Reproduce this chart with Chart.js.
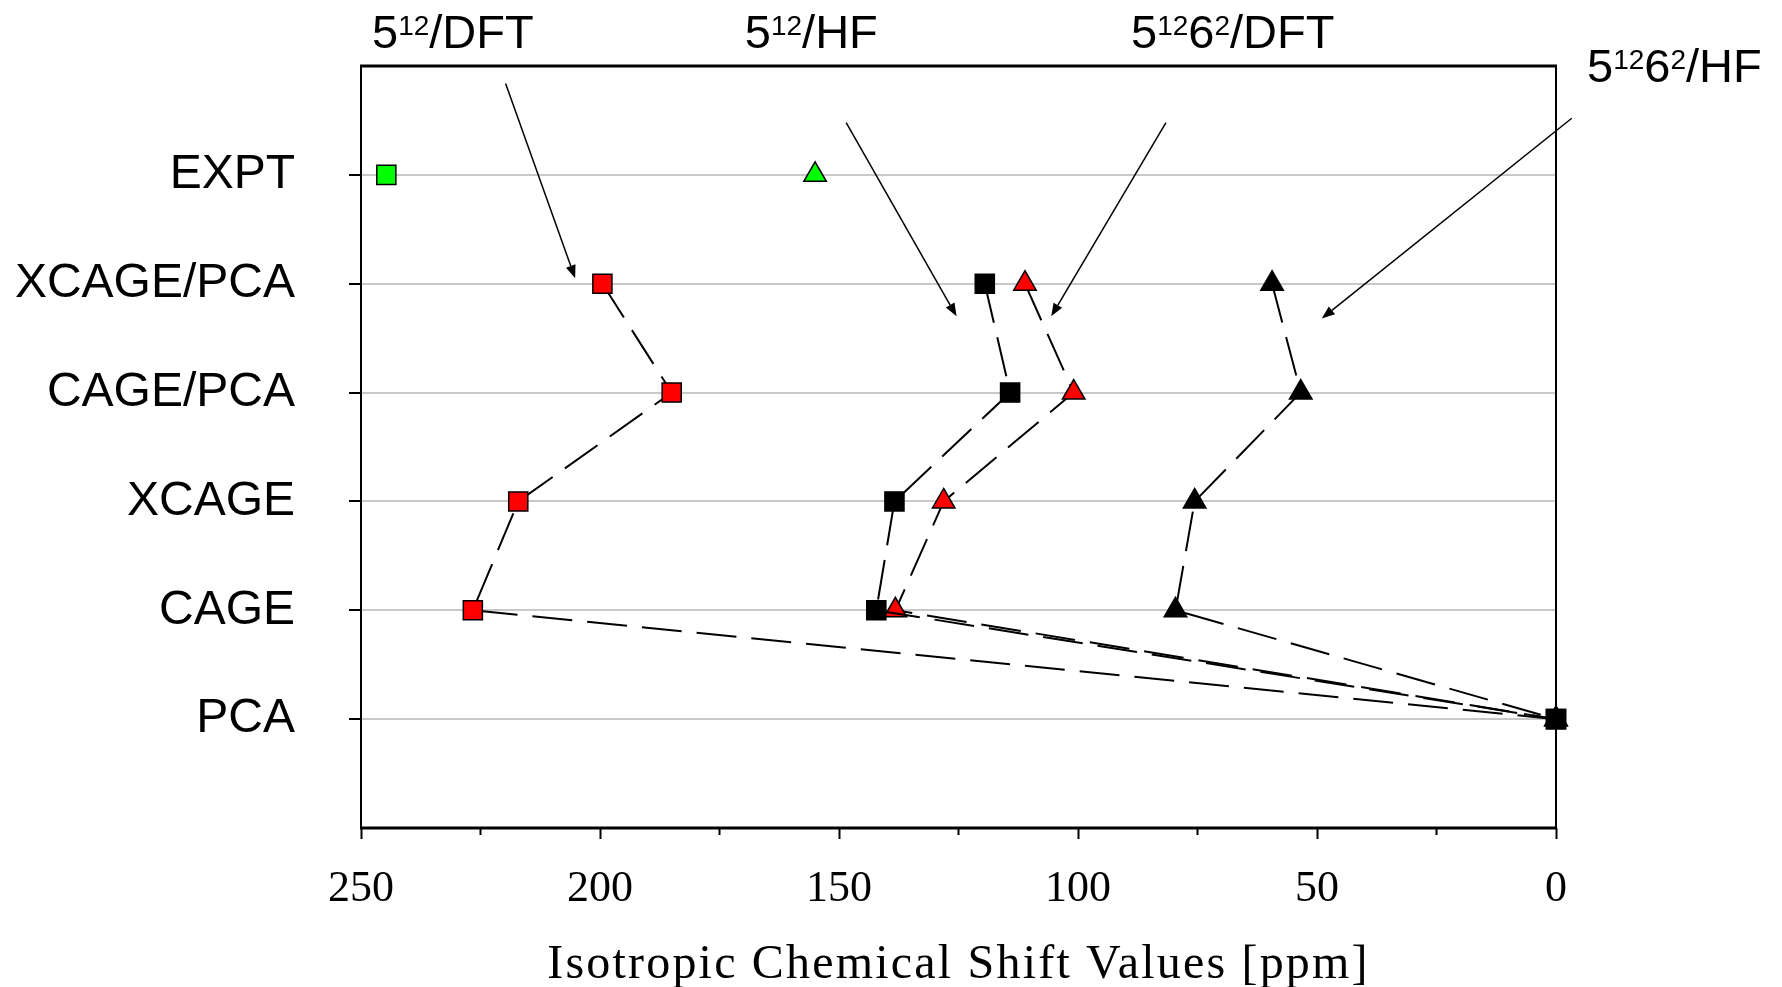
<!DOCTYPE html>
<html>
<head>
<meta charset="utf-8">
<script src="https://cdn.jsdelivr.net/npm/chart.js@4.4.0/dist/chart.umd.min.js"></script>
<style>
  html, body { margin: 0; padding: 0; background: #fff; }
  #wrap { width: 1782px; height: 987px; }
</style>
</head>
<body>
<div id="wrap"><canvas id="chart" width="1782" height="987"></canvas></div>
<script>
// rows of the y axis, bottom to top
var categories = ["PCA", "CAGE", "XCAGE", "CAGE/PCA", "XCAGE/PCA", "EXPT"];
// order in which the calculated points of each series are joined
var pathRows = ["XCAGE/PCA", "CAGE/PCA", "XCAGE", "CAGE", "PCA"];

// isotropic shifts [ppm], same order as pathRows
var dft512 = [199.5, 185.0, 217.1, 226.6, 0];
var hf512 = [119.5, 114.2, 138.4, 142.2, 0];
var dft51262 = [111.1, 100.9, 128.1, 138.2, 0];
var hf51262 = [59.4, 53.4, 75.6, 79.6, 0];
// experimental values: 5^12 cage, 5^12 6^2 cage
var exptValues = [244.7, 155.0];

var xMinorTicks = [25, 75, 125, 175, 225];
var xTitle = "Isotropic Chemical Shift Values [ppm]";

// cage labels over the plot, placed in data units (x = ppm, y = row)
var cageLabels = [
  { parts: [["5", 0], ["12", 1], ["/DFT", 0]], x: 247.7, y: 7.165 },
  { parts: [["5", 0], ["12", 1], ["/HF", 0]], x: 169.7, y: 7.165 },
  { parts: [["5", 0], ["12", 1], ["6", 0], ["2", 1], ["/DFT", 0]], x: 88.9, y: 7.165 },
  { parts: [["5", 0], ["12", 1], ["6", 0], ["2", 1], ["/HF", 0]], x: -6.5, y: 6.853 }
];
// arrows from the labels to their series
var arrows = [
  { x1: 219.75, y1: 6.84, x2: 205.2, y2: 5.05 },
  { x1: 148.5, y1: 6.48, x2: 125.4, y2: 4.70 },
  { x1: 81.6, y1: 6.48, x2: 105.6, y2: 4.70 },
  { x1: -3.3, y1: 6.52, x2: 49.0, y2: 4.68 }
];

function rowOf(name) {
  return categories.indexOf(name) + 1;
}
function toPoints(values) {
  return values.map((v, i) => ({ x: v, y: rowOf(pathRows[i]) }));
}

var dash = [40, 15];
function lineSet(label, values, style, fill, order) {
  return {
    label: label,
    data: toPoints(values),
    showLine: true,
    borderColor: "#000",
    borderWidth: 2,
    borderDash: dash,
    pointStyle: style,
    pointRadius: style === "rect" ? 13.5 : 13,
    pointBorderWidth: 1.5,
    pointBorderColor: "#000",
    pointBackgroundColor: fill,
    clip: false,
    order: order
  };
}

var annotate = {
  id: "annotate",
  beforeDatasetsDraw(chart) {
    const ctx = chart.ctx;
    const a = chart.chartArea;
    ctx.save();
    ctx.strokeStyle = "#000";
    ctx.lineWidth = 3;
    ctx.beginPath();
    ctx.moveTo(a.left - 1, a.top); ctx.lineTo(a.right + 1, a.top);
    ctx.moveTo(a.left - 1, a.bottom); ctx.lineTo(a.right + 1, a.bottom);
    ctx.stroke();
    ctx.lineWidth = 2;
    ctx.beginPath();
    ctx.moveTo(a.left, a.top); ctx.lineTo(a.left, a.bottom);
    ctx.moveTo(a.right, a.top); ctx.lineTo(a.right, a.bottom);
    ctx.stroke();
    // minor ticks of the x axis
    const xs = chart.scales.x;
    ctx.beginPath();
    xMinorTicks.forEach(v => {
      const px = xs.getPixelForValue(v);
      ctx.moveTo(px, a.bottom); ctx.lineTo(px, a.bottom + 7);
    });
    ctx.stroke();
    ctx.restore();
  },
  afterDraw(chart) {
    const ctx = chart.ctx;
    const a = chart.chartArea;
    const xs = chart.scales.x, ys = chart.scales.y;
    ctx.save();
    // arrows
    ctx.strokeStyle = "#000";
    ctx.fillStyle = "#000";
    ctx.lineWidth = 1.5;
    arrows.forEach(ar => {
      const x1 = xs.getPixelForValue(ar.x1), y1 = ys.getPixelForValue(ar.y1);
      const x2 = xs.getPixelForValue(ar.x2), y2 = ys.getPixelForValue(ar.y2);
      const ang = Math.atan2(y2 - y1, x2 - x1);
      const len = 13, half = 5;
      const bx = x2 - len * Math.cos(ang), by = y2 - len * Math.sin(ang);
      ctx.beginPath();
      ctx.moveTo(x1, y1); ctx.lineTo(bx, by);
      ctx.stroke();
      ctx.beginPath();
      ctx.moveTo(x2, y2);
      ctx.lineTo(bx + half * Math.sin(ang), by - half * Math.cos(ang));
      ctx.lineTo(bx - half * Math.sin(ang), by + half * Math.cos(ang));
      ctx.closePath();
      ctx.fill();
    });
    // cage labels with superscripts
    ctx.textBaseline = "alphabetic";
    ctx.textAlign = "left";
    cageLabels.forEach(lab => {
      let px = xs.getPixelForValue(lab.x);
      const py = ys.getPixelForValue(lab.y);
      lab.parts.forEach(p => {
        ctx.font = p[1] ? "28px 'Liberation Sans'" : "47px 'Liberation Sans'";
        ctx.fillText(p[0], px, p[1] ? py - 13 : py);
        px += ctx.measureText(p[0]).width;
      });
    });
    // x axis title, slightly letter-spaced
    ctx.font = "48px 'Liberation Serif'";
    ctx.textAlign = "center";
    ctx.letterSpacing = "2.2px";
    ctx.fillText(xTitle, (a.left + a.right) / 2, a.bottom + 150);
    ctx.restore();
  }
};

new Chart(document.getElementById("chart"), {
  type: "scatter",
  data: {
    datasets: [
      lineSet("5^12/HF", hf512, "rect", "#000", 1),
      lineSet("5^12 6^2/HF", hf51262, "triangle", "#000", 2),
      lineSet("5^12 6^2/DFT", dft51262, "triangle", "#ff0000", 3),
      lineSet("5^12/DFT", dft512, "rect", "#ff0000", 4),
      {
        label: "EXPT 5^12",
        data: [{ x: exptValues[0], y: rowOf("EXPT") }],
        pointStyle: "rect", pointRadius: 13.5, pointBorderWidth: 1.5,
        pointBorderColor: "#000", pointBackgroundColor: "#00ff00", clip: false, order: 5
      },
      {
        label: "EXPT 5^12 6^2",
        data: [{ x: exptValues[1], y: rowOf("EXPT") }],
        pointStyle: "triangle", pointRadius: 13, pointBorderWidth: 1.5,
        pointBorderColor: "#000", pointBackgroundColor: "#00ff00", clip: false, order: 5
      }
    ]
  },
  options: {
    responsive: false,
    animation: false,
    layout: { padding: { left: 0, top: 66, right: 226, bottom: 0 } },
    plugins: { legend: { display: false }, tooltip: { enabled: false } },
    scales: {
      x: {
        type: "linear",
        reverse: true,
        min: 0,
        max: 250,
        afterFit: (s) => { s.height = 159; },
        border: { display: false },
        grid: { drawOnChartArea: false, tickLength: 11, tickColor: "#000", tickWidth: 2 },
        ticks: {
          stepSize: 50,
          maxRotation: 0,
          padding: 24,
          color: "#000",
          font: { family: "Liberation Serif", size: 44 }
        }
      },
      y: {
        type: "linear",
        min: 0,
        max: 7,
        afterFit: (s) => {
          s.width = 361;
          s.paddingTop = 0;
          s.paddingBottom = 0;
        },
        border: { display: false },
        grid: {
          lineWidth: 2,
          color: (c) => (c.tick && c.tick.value >= 1 && c.tick.value <= 6) ? "#c8c8c8" : "rgba(0,0,0,0)",
          tickColor: (c) => (c.tick && c.tick.value >= 1 && c.tick.value <= 6) ? "#000" : "rgba(0,0,0,0)",
          tickLength: 12,
          tickWidth: 2
        },
        ticks: {
          stepSize: 1,
          autoSkip: false,
          padding: 54,
          color: "#000",
          font: { family: "Liberation Sans", size: 48 },
          callback: (v) => categories[v - 1] || ""
        }
      }
    }
  },
  plugins: [annotate]
});
</script>
</body>
</html>
